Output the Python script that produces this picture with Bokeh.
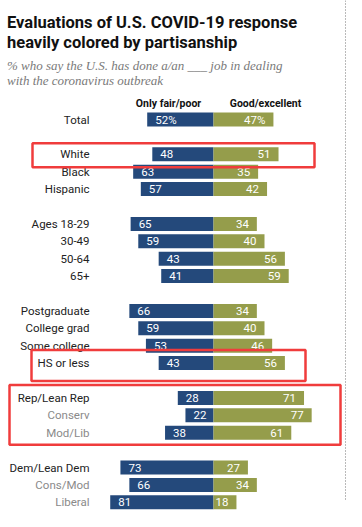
from bokeh.plotting import figure
from bokeh.models import ColumnDataSource, Range1d, Label
from bokeh.core.properties import value
from bokeh.embed import file_html
from bokeh.resources import INLINE

# ---- data ----
categories = ["Total", "White", "Black", "Hispanic",
              "Ages 18-29", "30-49", "50-64", "65+",
              "Postgraduate", "College grad", "Some college", "HS or less",
              "Rep/Lean Rep", "Conserv", "Mod/Lib",
              "Dem/Lean Dem", "Cons/Mod", "Liberal"]
groups = [1, 3, 4, 4, 3, 3]  # rows per group
fair_poor = [52, 48, 63, 57, 65, 59, 43, 41, 66, 59, 53, 43, 28, 22, 38, 73, 66, 81]
good_excellent = [47, 51, 35, 42, 34, 40, 56, 59, 34, 40, 46, 56, 71, 77, 61, 27, 34, 18]
sub_rows = ["Conserv", "Mod/Lib", "Cons/Mod", "Liberal"]
highlight = [["White"], ["HS or less"], ["Rep/Lean Rep", "Conserv", "Mod/Lib"]]

# ---- layout helpers ----
W, H = 346, 511
CX, SX = 213.0, 1.275      # pixel of zero, pixels per percent
Y0, PY = 119.0, 17.4       # pixel of first row, row pitch


def dx(px):
    return (px - CX) / SX


def dy(py):
    return (py - Y0) / PY


# row positions with one blank row between groups
ypos = []
r = 0
for g in groups:
    for _ in range(g):
        ypos.append(r)
        r += 1
    r += 1
rowpos = dict(zip(categories, ypos))

BLUE = "#24497b"
OLIVE = "#959d4b"
FONT = "Roboto"

p = figure(width=W, height=H, output_backend="svg", toolbar_location=None,
           x_range=Range1d(dx(0), dx(W)), y_range=Range1d(dy(H), dy(0)),
           min_border=0, outline_line_color=None)
p.axis.visible = False
p.grid.visible = False
p.background_fill_color = "white"
p.border_fill_color = "white"

bar_h = 14 / PY
src = ColumnDataSource(dict(
    y=ypos,
    left=[-v for v in fair_poor],
    right=good_excellent,
    zero=[0] * len(ypos),
    cat=categories,
    lcol=["#8a8a8a" if c in sub_rows else "#222222" for c in categories],
    ltxt=[f"{v}%" if i == 0 else str(v) for i, v in enumerate(fair_poor)],
    rtxt=[f"{v}%" if i == 0 else str(v) for i, v in enumerate(good_excellent)],
    lx=[-v + 8 / SX for v in fair_poor],
    rx=[v - 8 / SX for v in good_excellent],
))

p.hbar(y="y", left="left", right="zero", height=bar_h, fill_color=BLUE,
       line_color=None, source=src)
p.hbar(y="y", left="zero", right="right", height=bar_h, fill_color=OLIVE,
       line_color=None, source=src)

p.text(x="lx", y="y", text="ltxt", source=src, text_color="white",
       text_font_size="11.5px", text_baseline="middle", text_align="left",
       text_font=value(FONT))
p.text(x="rx", y="y", text="rtxt", source=src, text_color="white",
       text_font_size="11.5px", text_baseline="middle", text_align="right",
       text_font=value(FONT))
p.text(x=dx(89), y="y", text="cat", source=src, text_color="lcol",
       text_font_size="11.5px", text_baseline="middle", text_align="right",
       text_font=value(FONT))


def lab(text, x, y, size, color="#111111", style="normal", font=FONT, align="left"):
    p.add_layout(Label(x=dx(x), y=dy(y), text=text, text_font_size=size,
                       text_color=color, text_font_style=style, text_font=font,
                       text_align=align, text_baseline="alphabetic"))


lab("Evaluations of U.S. COVID-19 response", 6.5, 22, "16.5px", style="bold")
lab("heavily colored by partisanship", 6.5, 41.5, "16.5px", style="bold")
lab("% who say the U.S. has done a/an ___ job in dealing", 6.5, 64.5, "13px",
    color="#7a7a7a", style="italic", font="Liberation Serif")
lab("with the coronavirus outbreak", 6.5, 79.5, "13px",
    color="#7a7a7a", style="italic", font="Liberation Serif")
lab("Only fair/poor", 168, 103, "10.5px", style="bold", align="center")
lab("Good/excellent", 265, 103, "10.5px", style="bold", align="center")

# red highlight boxes around highlighted rows (x in pixels, y padding in pixels)
box_x = [(32, 314), (31, 305), (9, 340)]
box_pad = [(11, 13), (13, 18), (13, 12)]
tops, bottoms = [], []
for rows, (pt, pb) in zip(highlight, box_pad):
    tops.append(min(rowpos[c] for c in rows) - pt / PY)
    bottoms.append(max(rowpos[c] for c in rows) + pb / PY)
p.quad(left=[dx(b[0]) for b in box_x], right=[dx(b[1]) for b in box_x],
       top=tops, bottom=bottoms,
       fill_color=None, line_color="#f03c3c", line_width=2.5)

# dotted frame edge on the right
p.line(x=[dx(345.2), dx(345.2)], y=[dy(0), dy(499)], line_color="#555555",
       line_width=1, line_dash="1 2")

open("out.html", "w").write(file_html(p, INLINE))
